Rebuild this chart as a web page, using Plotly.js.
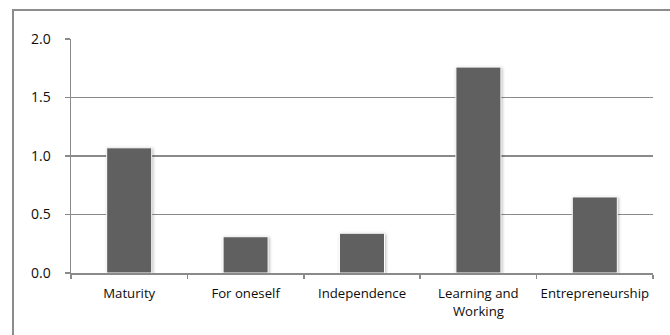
<!DOCTYPE html>
<html>
<head>
<meta charset="utf-8">
<script src="https://cdn.plot.ly/plotly-3.0.1.min.js"></script>
<style>
  html, body { margin: 0; padding: 0; background: #fff; }
  #chart { width: 670px; height: 335px; }
  /* soft shadow around each column */
  .barlayer .point path { filter: drop-shadow(1px 1px 1.5px rgba(0,0,0,0.28)); }
</style>
</head>
<body>
<div id="chart"></div>
<script>
// Category names and their scores
const categories = ["Maturity", "For oneself", "Independence", "Learning and<br>Working", "Entrepreneurship"];
const values = [1.07, 0.31, 0.34, 1.76, 0.65];
const yTicks = [0, 0.5, 1.0, 1.5, 2.0];

const W = 670, H = 335;
const M = { l: 71, r: 17, t: 39, b: 62 };
const plotW = W - M.l - M.r, plotH = H - M.t - M.b;
// convert pixel positions of the frame into paper coordinates
const px = x => (x - M.l) / plotW;
const py = y => (H - M.b - y) / plotH;

const trace = {
  type: "bar",
  x: categories,
  y: values,
  marker: { color: "#606060", line: { color: "#ffffff", width: 1 } },
  hoverinfo: "x+y"
};

const grey = "#8a8a8a";
const layout = {
  width: W, height: H,
  margin: M,
  paper_bgcolor: "#ffffff",
  plot_bgcolor: "#ffffff",
  showlegend: false,
  bargap: 0.613,
  font: { family: "Open Sans, sans-serif", size: 13.5, color: "#0d0d0d" },
  xaxis: {
    type: "category",
    tickangle: 0,
    showline: true, linecolor: grey, linewidth: 1.5,
    ticks: "outside", tickson: "boundaries", ticklen: 4, tickcolor: grey, tickwidth: 1.5,
    ticklabelstandoff: 8,
    showgrid: false, zeroline: false,
    tickfont: { size: 13.2 }
  },
  yaxis: {
    range: [0, 2],
    tickvals: yTicks,
    tickformat: ".1f",
    showline: true, linecolor: grey, linewidth: 1.5,
    ticks: "outside", ticklen: 5, tickcolor: grey, tickwidth: 1.5,
    ticklabelstandoff: 11,
    showgrid: true, gridcolor: grey, gridwidth: 1.5,
    zeroline: false,
    tickfont: { size: 14 }
  },
  shapes: [{
    // outer frame: left and top edges
    type: "path", xref: "paper", yref: "paper",
    path: `M ${px(13)},${py(345)} L ${px(13)},${py(10)} L ${px(672)},${py(10)}`,
    line: { color: "#8c8c8c", width: 2 }
  }]
};

Plotly.newPlot("chart", [trace], layout, { displayModeBar: false, staticPlot: true });
</script>
</body>
</html>
